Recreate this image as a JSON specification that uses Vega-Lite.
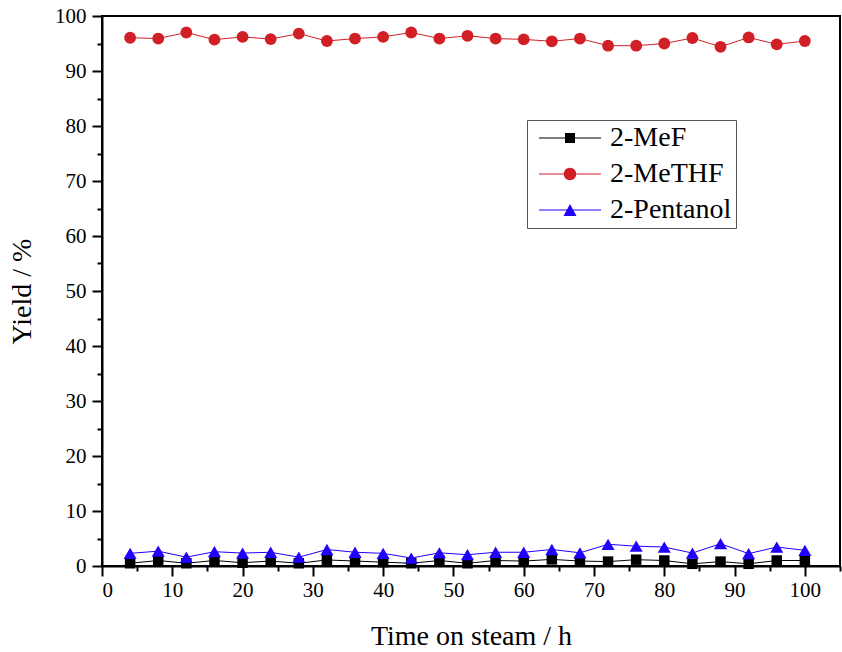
{
  "$schema": "https://vega.github.io/schema/vega-lite/v6.json",
  "width": 738,
  "height": 550,
  "autosize": {"type": "none"},
  "padding": {"left": 102, "top": 16, "right": 2, "bottom": 86},
  "background": "white",
  "config": {
    "view": {"stroke": "black", "strokeWidth": 2},
    "axis": {
      "domainColor": "black",
      "domainWidth": 2,
      "tickColor": "black",
      "tickWidth": 2,
      "labelFont": "Liberation Serif",
      "labelFontSize": 21,
      "labelColor": "black",
      "titleFont": "Liberation Serif",
      "titleFontSize": 28,
      "titleFontWeight": "normal",
      "titleColor": "black",
      "grid": false,
      "labelOverlap": false
    }
  },
  "data": {
    "values": [
      {"time": 4, "series": "2-MeF", "yield": 0.5},
      {"time": 8, "series": "2-MeF", "yield": 1.0},
      {"time": 12, "series": "2-MeF", "yield": 0.5},
      {"time": 16, "series": "2-MeF", "yield": 1.0},
      {"time": 20, "series": "2-MeF", "yield": 0.6},
      {"time": 24, "series": "2-MeF", "yield": 0.9},
      {"time": 28, "series": "2-MeF", "yield": 0.5},
      {"time": 32, "series": "2-MeF", "yield": 1.1},
      {"time": 36, "series": "2-MeF", "yield": 0.9},
      {"time": 40, "series": "2-MeF", "yield": 0.7},
      {"time": 44, "series": "2-MeF", "yield": 0.5},
      {"time": 48, "series": "2-MeF", "yield": 1.0},
      {"time": 52, "series": "2-MeF", "yield": 0.5},
      {"time": 56, "series": "2-MeF", "yield": 1.0},
      {"time": 60, "series": "2-MeF", "yield": 0.9},
      {"time": 64, "series": "2-MeF", "yield": 1.2},
      {"time": 68, "series": "2-MeF", "yield": 0.9},
      {"time": 72, "series": "2-MeF", "yield": 0.8},
      {"time": 76, "series": "2-MeF", "yield": 1.15},
      {"time": 80, "series": "2-MeF", "yield": 1.0},
      {"time": 84, "series": "2-MeF", "yield": 0.4},
      {"time": 88, "series": "2-MeF", "yield": 0.8},
      {"time": 92, "series": "2-MeF", "yield": 0.4},
      {"time": 96, "series": "2-MeF", "yield": 1.0},
      {"time": 100, "series": "2-MeF", "yield": 1.0},
      {"time": 4, "series": "2-MeTHF", "yield": 96.05},
      {"time": 8, "series": "2-MeTHF", "yield": 95.9},
      {"time": 12, "series": "2-MeTHF", "yield": 97.0},
      {"time": 16, "series": "2-MeTHF", "yield": 95.7},
      {"time": 20, "series": "2-MeTHF", "yield": 96.2},
      {"time": 24, "series": "2-MeTHF", "yield": 95.8},
      {"time": 28, "series": "2-MeTHF", "yield": 96.8},
      {"time": 32, "series": "2-MeTHF", "yield": 95.45},
      {"time": 36, "series": "2-MeTHF", "yield": 95.9},
      {"time": 40, "series": "2-MeTHF", "yield": 96.2},
      {"time": 44, "series": "2-MeTHF", "yield": 97.0},
      {"time": 48, "series": "2-MeTHF", "yield": 95.9},
      {"time": 52, "series": "2-MeTHF", "yield": 96.4},
      {"time": 56, "series": "2-MeTHF", "yield": 95.9},
      {"time": 60, "series": "2-MeTHF", "yield": 95.75},
      {"time": 64, "series": "2-MeTHF", "yield": 95.4},
      {"time": 68, "series": "2-MeTHF", "yield": 95.9},
      {"time": 72, "series": "2-MeTHF", "yield": 94.6},
      {"time": 76, "series": "2-MeTHF", "yield": 94.6},
      {"time": 80, "series": "2-MeTHF", "yield": 95.0},
      {"time": 84, "series": "2-MeTHF", "yield": 96.0},
      {"time": 88, "series": "2-MeTHF", "yield": 94.4},
      {"time": 92, "series": "2-MeTHF", "yield": 96.1},
      {"time": 96, "series": "2-MeTHF", "yield": 94.85},
      {"time": 100, "series": "2-MeTHF", "yield": 95.45},
      {"time": 4, "series": "2-Pentanol", "yield": 2.3},
      {"time": 8, "series": "2-Pentanol", "yield": 2.7},
      {"time": 12, "series": "2-Pentanol", "yield": 1.6},
      {"time": 16, "series": "2-Pentanol", "yield": 2.6},
      {"time": 20, "series": "2-Pentanol", "yield": 2.35},
      {"time": 24, "series": "2-Pentanol", "yield": 2.5},
      {"time": 28, "series": "2-Pentanol", "yield": 1.6},
      {"time": 32, "series": "2-Pentanol", "yield": 3.0},
      {"time": 36, "series": "2-Pentanol", "yield": 2.5},
      {"time": 40, "series": "2-Pentanol", "yield": 2.3},
      {"time": 44, "series": "2-Pentanol", "yield": 1.45},
      {"time": 48, "series": "2-Pentanol", "yield": 2.4},
      {"time": 52, "series": "2-Pentanol", "yield": 2.05},
      {"time": 56, "series": "2-Pentanol", "yield": 2.5},
      {"time": 60, "series": "2-Pentanol", "yield": 2.5},
      {"time": 64, "series": "2-Pentanol", "yield": 3.0},
      {"time": 68, "series": "2-Pentanol", "yield": 2.4},
      {"time": 72, "series": "2-Pentanol", "yield": 3.95},
      {"time": 76, "series": "2-Pentanol", "yield": 3.6},
      {"time": 80, "series": "2-Pentanol", "yield": 3.45},
      {"time": 84, "series": "2-Pentanol", "yield": 2.35},
      {"time": 88, "series": "2-Pentanol", "yield": 4.05},
      {"time": 92, "series": "2-Pentanol", "yield": 2.25},
      {"time": 96, "series": "2-Pentanol", "yield": 3.45},
      {"time": 100, "series": "2-Pentanol", "yield": 2.85}
    ]
  },
  "encoding": {
    "x": {
      "field": "time",
      "type": "quantitative",
      "scale": {"domain": [0, 105], "nice": false, "zero": false},
      "axis": {
        "title": "Time on steam / h",
        "values": [0, 5, 10, 15, 20, 25, 30, 35, 40, 45, 50, 55, 60, 65, 70, 75, 80, 85, 90, 95, 100, 105],
        "labelExpr": "datum.value % 10 === 0 ? datum.label : ''",
        "tickSize": {"condition": {"test": "datum.value % 10 === 0", "value": 10}, "value": 5},
        "labelPadding": 3,
        "titlePadding": 22
      }
    },
    "y": {
      "field": "yield",
      "type": "quantitative",
      "scale": {"domain": [0, 100], "nice": false},
      "axis": {
        "title": "Yield / %",
        "values": [0, 5, 10, 15, 20, 25, 30, 35, 40, 45, 50, 55, 60, 65, 70, 75, 80, 85, 90, 95, 100],
        "labelExpr": "datum.value % 10 === 0 ? datum.label : ''",
        "tickSize": {"condition": {"test": "datum.value % 10 === 0", "value": 10}, "value": 5},
        "labelPadding": 6,
        "titlePadding": 18
      }
    },
    "color": {
      "field": "series",
      "type": "nominal",
      "scale": {"domain": ["2-MeF", "2-MeTHF", "2-Pentanol"], "range": ["#000000", "#d11f26", "#2000ff"]},
      "legend": {
        "title": null,
        "orient": "none",
        "legendX": 425,
        "legendY": 104,
        "padding": 4,
        "rowPadding": 8,
        "strokeColor": "#555555",
        "fillColor": "white",
        "labelFont": "Liberation Serif",
        "labelFontSize": 28,
        "labelColor": "black",
        "labelOffset": 26,
        "symbolSize": 100,
        "symbolOffset": 25,
        "symbolStrokeWidth": 0,
        "symbolType": {"expr": "datum.value === '2-MeF' ? 'M-6.2,-0.1H6.2V0.1H-6.2Z M-1,-1H1V1H-1Z' : datum.value === '2-MeTHF' ? 'M-6.2,-0.1H6.2V0.1H-6.2Z M-1.25,0A1.25,1.25,0,1,1,1.25,0A1.25,1.25,0,1,1,-1.25,0Z' : 'M-6.2,-0.1H6.2V0.1H-6.2Z M0,-1.2L1.3,1.2L-1.3,1.2Z'"}
      }
    }
  },
  "layer": [
    {
      "mark": {"type": "line", "strokeWidth": 1}
    },
    {
      "mark": {"type": "point", "filled": true, "opacity": 1},
      "encoding": {
        "shape": {
          "field": "series",
          "type": "nominal",
          "scale": {"range": ["square", "circle", "triangle-up"]},
          "legend": null
        },
        "size": {
          "field": "series",
          "type": "nominal",
          "scale": {"range": [110, 170, 240]},
          "legend": null
        }
      }
    }
  ]
}
